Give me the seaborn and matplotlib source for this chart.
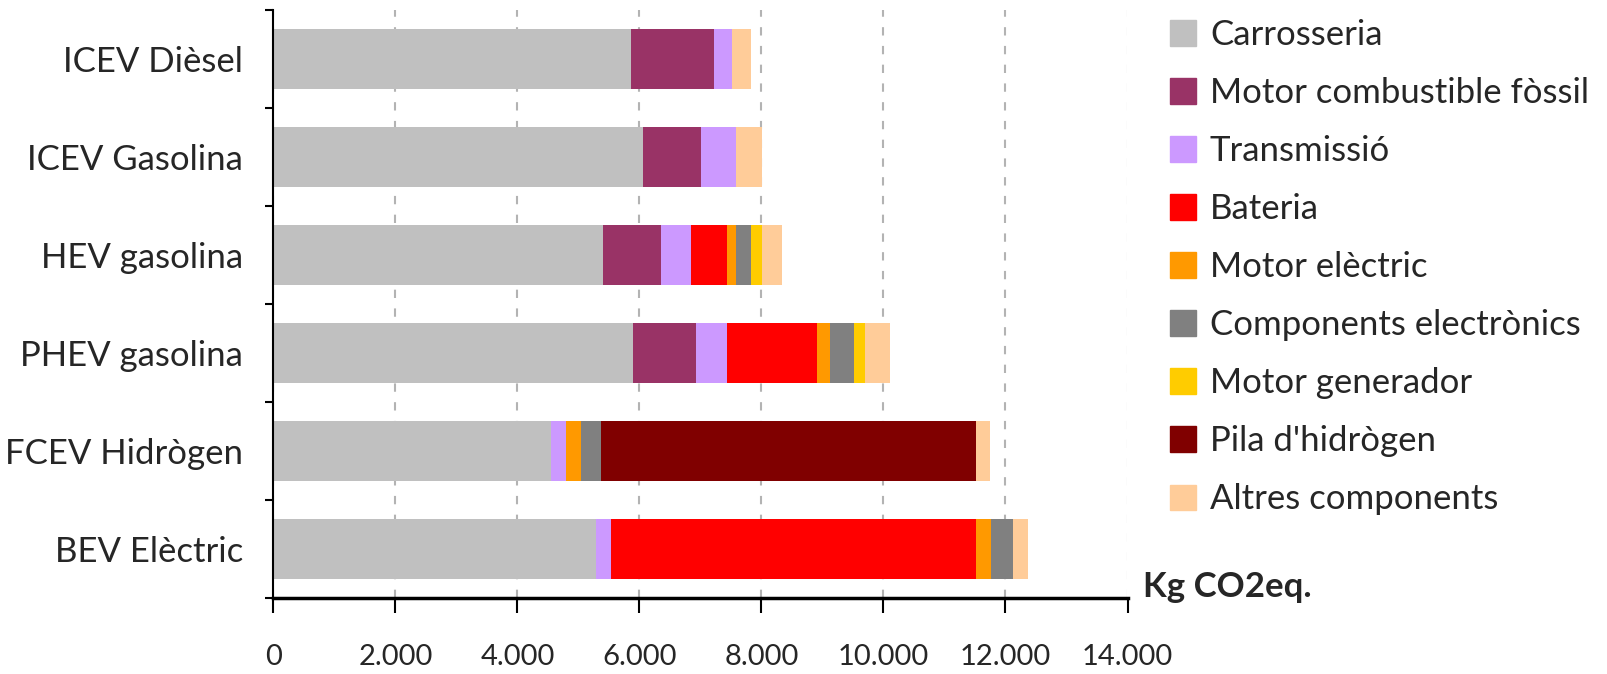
import numpy as np
import pandas as pd
import seaborn as sns
import matplotlib.pyplot as plt
import matplotlib.patches as mpatches
from matplotlib.ticker import FixedLocator, FuncFormatter

vehicles = ["ICEV Dièsel", "ICEV Gasolina", "HEV gasolina",
            "PHEV gasolina", "FCEV Hidrògen", "BEV Elèctric"]
components = ["Carrosseria", "Motor combustible fòssil", "Transmissió", "Bateria",
              "Motor elèctric", "Components electrònics", "Motor generador",
              "Pila d'hidrògen", "Altres components"]

# kg CO2eq per component, one value per vehicle
carrosseria = [5865, 6066, 5407, 5900, 4548, 5282]
motor_fossil = [1355, 947, 947, 1032, 0, 0]
transmissio = [290, 577, 496, 495, 245, 250]
bateria = [0, 0, 577, 1481, 0, 5980]
motor_electric = [0, 0, 163, 213, 251, 244]
electronics = [0, 0, 245, 402, 320, 370]
motor_generador = [0, 0, 169, 175, 0, 0]
pila_h2 = [0, 0, 0, 0, 6148, 0]
altres = [325, 414, 333, 402, 238, 245]

colors = ["#C0C0C0", "#993366", "#CC99FF", "#FF0000", "#FF9900",
          "#808080", "#FFCC00", "#800000", "#FFCC99"]

sns.set_theme(style="white")
plt.rcParams['font.family'] = ['Lato', 'DejaVu Sans']
FS = 25
TICK_FS = 21

stack = np.array([carrosseria, motor_fossil, transmissio, bateria, motor_electric,
                  electronics, motor_generador, pila_h2, altres])
cumulative = np.cumsum(stack, axis=0)

fig = plt.figure(figsize=(16.08, 6.74), dpi=100)
ax = fig.add_axes([273.4 / 1608, 1 - 598 / 674, 854.1 / 1608, 588 / 674])

# stacked bars: draw running totals from the last component back to the first
for i in reversed(range(len(components))):
    df = pd.DataFrame({"vehicle": vehicles, "total": cumulative[i]})
    sns.barplot(data=df, x="total", y="vehicle", color=colors[i], saturation=1,
                width=0.61, linewidth=0, ax=ax, orient="h")

ax.set_xlim(0, 14000)
ax.set_ylim(5.5, -0.5)
ax.xaxis.set_major_locator(FixedLocator(np.arange(0, 14001, 2000)))
ax.xaxis.set_major_formatter(FuncFormatter(lambda v, p: f"{int(v):,}".replace(",", ".")))
ax.grid(axis="x", linestyle=(0, (4, 5)), color="#B3B3B3", linewidth=1.5)
ax.grid(axis="y", visible=False)
ax.set_axisbelow(True)
ax.set_xlabel("")
ax.set_ylabel("")

for side in ["top", "right"]:
    ax.spines[side].set_visible(False)
ax.spines["left"].set_color("black")
ax.spines["left"].set_linewidth(1.5)
ax.spines["bottom"].set_color("black")
ax.spines["bottom"].set_linewidth(2.5)

ax.set_yticks(np.arange(-0.5, 6, 1), minor=True)
ax.tick_params(axis="y", which="major", length=0, pad=22, labelsize=FS)
ax.tick_params(axis="y", which="minor", length=6, width=1.5, color="black", direction="out", left=True)
ax.tick_params(axis="x", which="major", length=11, width=1.5, color="black", direction="out",
               bottom=True, pad=22, labelsize=TICK_FS)

fig.text(1143 / 1608, 1 - 587 / 674, "Kg CO2eq.", fontsize=FS, fontweight="bold",
         va="center", ha="left")

handles = [mpatches.Patch(color=c, label=l) for c, l in zip(colors, components)]
fig.legend(handles=handles, loc="upper left", bbox_to_anchor=(1170 / 1608, 1 - 19 / 674),
           frameon=False, fontsize=FS, handlelength=0.75, handleheight=0.75,
           handletextpad=0.4, labelspacing=0.75, borderpad=0, borderaxespad=0)

fig.savefig("out.png", dpi=100)
